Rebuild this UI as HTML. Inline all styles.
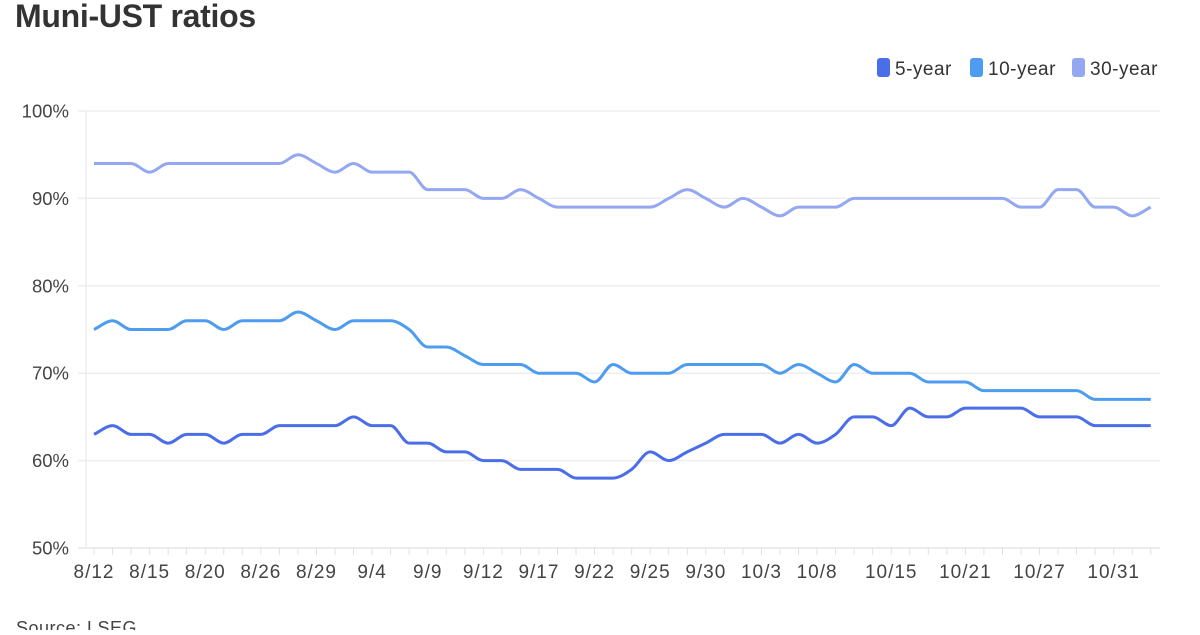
<!DOCTYPE html>
<html><head><meta charset="utf-8"><style>
body{margin:0;background:#fff;width:1200px;height:630px;overflow:hidden;font-family:"Liberation Sans",sans-serif;}
</style></head><body>
<svg id="s" width="1200" height="630" xmlns="http://www.w3.org/2000/svg" font-family="Liberation Sans, sans-serif">
<text x="15" y="27" font-size="32" font-weight="bold" fill="#333" letter-spacing="-0.3">Muni-UST ratios</text>
<rect x="877" y="58" width="13" height="19" rx="3" fill="#4a6ee8"/><text x="895" y="75" font-size="19" fill="#333" letter-spacing="0.5">5-year</text>
<rect x="970" y="58" width="13" height="19" rx="3" fill="#4d9cf0"/><text x="988" y="75" font-size="19" fill="#333" letter-spacing="0.5">10-year</text>
<rect x="1072" y="58" width="13" height="19" rx="3" fill="#94a8f2"/><text x="1090" y="75" font-size="19" fill="#333" letter-spacing="0.5">30-year</text>
<g id="grid"></g>
<g id="lines"></g>
<text x="16" y="634" font-size="18" fill="#444" letter-spacing="0.5">Source: LSEG</text>
</svg>
<script>
const g=document.getElementById('grid'),L=document.getElementById('lines');
const ns='http://www.w3.org/2000/svg';
function el(t,a,p,txt){const e=document.createElementNS(ns,t);for(const k in a)e.setAttribute(k,a[k]);if(txt)e.textContent=txt;p.appendChild(e);return e;}
const X=i=>94+18.54*i, Y=v=>548-(v-50)*8.74;
for(let v=50;v<=100;v+=10){const y=Y(v);el('line',{x1:78,x2:1160,y1:y,y2:y,stroke:v==50?'#e6e6e6':'#ededed','stroke-width':1.5},g);el('text',{x:69,y:y+6.5,'font-size':18.5,fill:'#444','text-anchor':'end'},g,v+'%');}
el('line',{x1:86,x2:86,y1:111,y2:548,stroke:'#ededed','stroke-width':1.5},g);
for(let i=0;i<58;i++)el('line',{x1:X(i),x2:X(i),y1:548,y2:555,stroke:'#e0e0e0','stroke-width':1},g);
const labs=[[0,'8/12'],[3,'8/15'],[6,'8/20'],[9,'8/26'],[12,'8/29'],[15,'9/4'],[18,'9/9'],[21,'9/12'],[24,'9/17'],[27,'9/22'],[30,'9/25'],[33,'9/30'],[36,'10/3'],[39,'10/8'],[43,'10/15'],[47,'10/21'],[51,'10/27'],[55,'10/31']];
labs.forEach(([i,t])=>el('text',{x:X(i),y:578,'font-size':19,fill:'#444','text-anchor':'middle','letter-spacing':1},g,t));
const s30=[94,94,94,93,94,94,94,94,94,94,94,95,94,93,94,93,93,93,91,91,91,90,90,91,90,89,89,89,89,89,89,90,91,90,89,90,89,88,89,89,89,90,90,90,90,90,90,90,90,90,89,89,91,91,89,89,88,89];
const s10=[75,76,75,75,75,76,76,75,76,76,76,77,76,75,76,76,76,75,73,73,72,71,71,71,70,70,70,69,71,70,70,70,71,71,71,71,71,70,71,70,69,71,70,70,70,69,69,69,68,68,68,68,68,68,67,67,67,67];
const s5=[63,64,63,63,62,63,63,62,63,63,64,64,64,64,65,64,64,62,62,61,61,60,60,59,59,59,58,58,58,59,61,60,61,62,63,63,63,62,63,62,63,65,65,64,66,65,65,66,66,66,66,65,65,65,64,64,64,64];
function path(d){const n=d.length,xs=d.map((_,i)=>X(i)),ys=d.map(Y);const m=[];const dl=[];for(let i=0;i<n-1;i++)dl.push((ys[i+1]-ys[i])/(xs[i+1]-xs[i]));
for(let i=0;i<n;i++){if(i==0)m.push(dl[0]);else if(i==n-1)m.push(dl[n-2]);else m.push(dl[i-1]*dl[i]<=0?0:(dl[i-1]+dl[i])/2);}
let p='M'+xs[0]+','+ys[0];for(let i=0;i<n-1;i++){const h=(xs[i+1]-xs[i])/3;p+=` C${xs[i]+h},${ys[i]+m[i]*h} ${xs[i+1]-h},${ys[i+1]-m[i+1]*h} ${xs[i+1]},${ys[i+1]}`;}return p;}
[[s30,'#94a8f2'],[s10,'#4d9cf0'],[s5,'#4a6ee8']].forEach(([d,c])=>el('path',{d:path(d),fill:'none',stroke:c,'stroke-width':3,'stroke-linejoin':'round'},L));
</script>
</body></html>
